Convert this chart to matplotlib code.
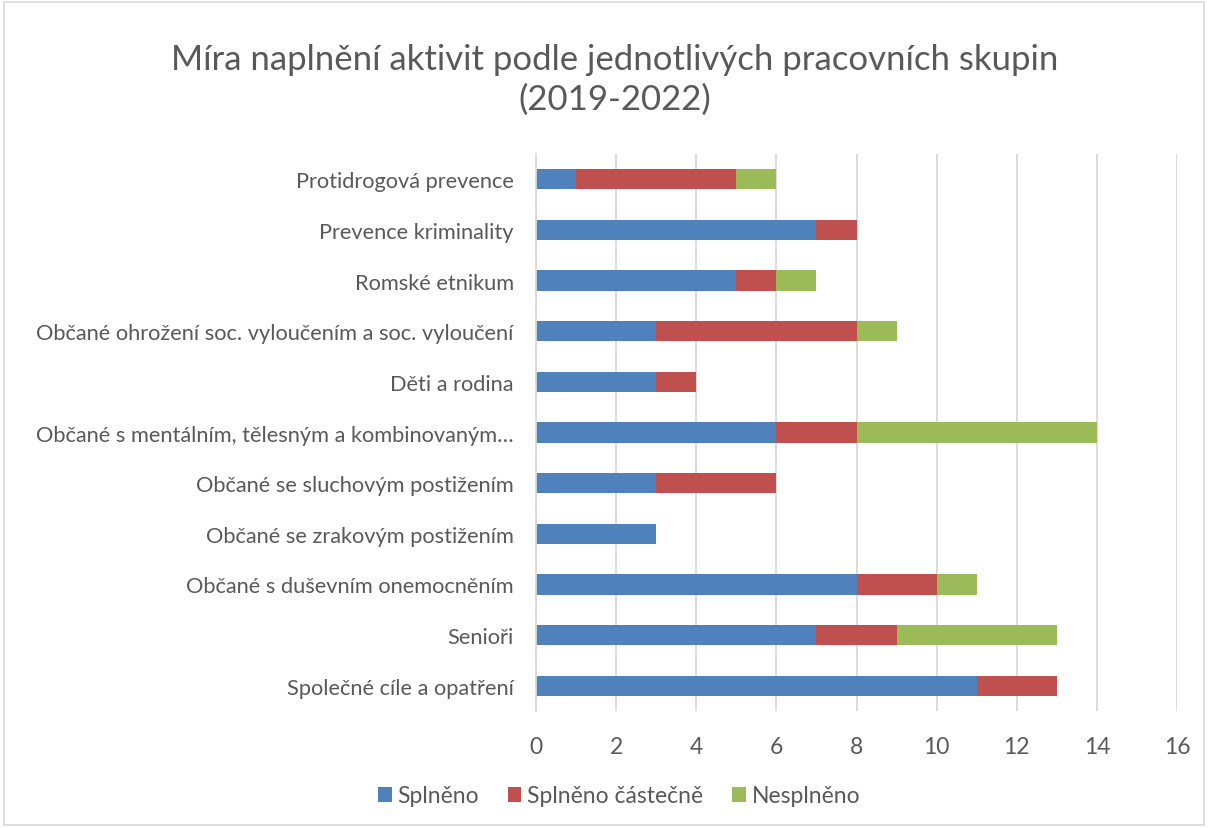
import matplotlib
matplotlib.use("Agg")
import matplotlib.pyplot as plt
import numpy as np
from matplotlib.patches import Rectangle

plt.rcParams['font.family'] = ['Lato', 'DejaVu Sans']

# categories from bottom to top
categories = [
    "Společné cíle a opatření",
    "Senioři",
    "Občané s duševním onemocněním",
    "Občané se zrakovým postižením",
    "Občané se sluchovým postižením",
    "Občané s mentálním, tělesným a kombinovaným…",
    "Děti a rodina",
    "Občané ohrožení soc. vyloučením a soc. vyloučení",
    "Romské etnikum",
    "Prevence kriminality",
    "Protidrogová prevence",
]
splneno = [11, 7, 8, 3, 3, 6, 3, 3, 5, 7, 1]
castecne = [2, 2, 2, 0, 3, 2, 1, 5, 1, 1, 4]
nesplneno = [0, 4, 1, 0, 0, 6, 0, 1, 1, 0, 1]

series_names = ["Splněno", "Splněno částečně", "Nesplněno"]
colors = ["#4F81BD", "#C0504D", "#9BBB59"]
text_col = "#595959"

fig = plt.figure(figsize=(12.08, 8.29), dpi=100)
ax = fig.add_axes([536 / 1208, 1 - 712 / 829, (1177 - 536) / 1208, (712 - 155) / 829])

y = np.arange(len(categories))
left = np.zeros(len(categories))
for vals, name, c in zip([splneno, castecne, nesplneno], series_names, colors):
    ax.barh(y, vals, height=0.4, left=left, color=c, label=name, zorder=3)
    left += np.array(vals)

ax.set_xlim(0, 16)
ax.set_ylim(-0.5, len(categories) - 0.5)
ax.set_xticks(range(0, 17, 2))
ax.set_yticks(y)
ax.set_yticklabels(categories)
ax.grid(axis='x', color="#D9D9D9", linewidth=1.3, zorder=0)
for s in ['top', 'right', 'bottom']:
    ax.spines[s].set_visible(False)
ax.spines['left'].set_color("#D9D9D9")
ax.spines['left'].set_linewidth(1.3)
ax.spines['left'].set_zorder(4)
ax.tick_params(axis='both', length=0, colors=text_col, labelsize=15.7)
ax.tick_params(axis='x', labelsize=16.5, pad=18)
ax.tick_params(axis='y', pad=16)

fig.text(615 / 1208, 1 - 80 / 829, "Míra naplnění aktivit podle jednotlivých pracovních skupin\n(2019-2022)",
         ha='center', va='center', fontsize=25, color=text_col, linespacing=1.32)

fig.legend(loc='center', bbox_to_anchor=(619 / 1208, 1 - 797 / 829), ncol=3, frameon=False,
           fontsize=16.5, labelcolor=text_col, handlelength=0.6, handleheight=0.6,
           handletextpad=0.25, columnspacing=1.25)

fig.patches.append(Rectangle((0.003, 0.004), 0.994, 0.992, transform=fig.transFigure,
                             fill=False, edgecolor="#D9D9D9", linewidth=1.2))

fig.savefig("out.png", dpi=100)
